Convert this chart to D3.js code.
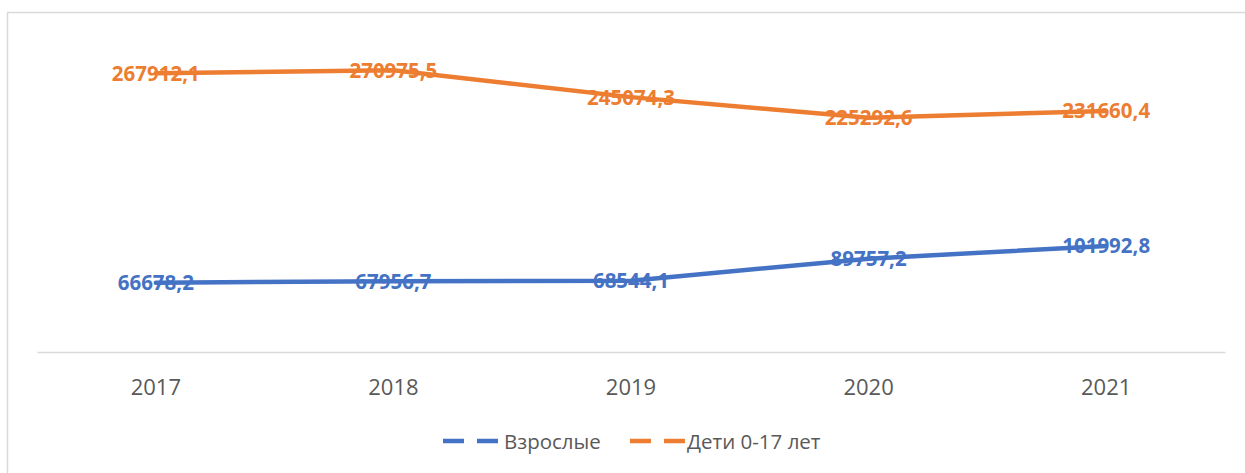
<!DOCTYPE html>
<html><head><meta charset="utf-8">
<script src="https://cdn.jsdelivr.net/npm/d3@7"></script>
<style>body{margin:0;background:#fff;} svg{display:block;}</style>
</head><body>
<svg id="chart" width="1245" height="473"></svg>
<script>
const categories = ["2017", "2018", "2019", "2020", "2021"];
const adults = [66678.2, 67956.7, 68544.1, 89757.2, 101992.8];
const children = [267912.1, 270975.5, 245074.3, 225292.6, 231660.4];
const seriesNames = ["Взрослые", "Дети 0-17 лет"];
const seriesColors = ["#4472C4", "#ED7D31"];

const svg = d3.select("#chart");
const W = 1245, H = 473;
svg.append("rect").attr("x", 7.5).attr("y", 12.5).attr("width", W + 10).attr("height", H + 10)
  .attr("fill", "#fff").attr("stroke", "#d9d9d9").attr("stroke-width", 1.5);

const x = d3.scaleBand().domain(categories).range([37, 1225]);
const y = d3.scaleLinear().domain([0, 300000]).range([352, 40]);

const axis = svg.append("g").attr("transform", "translate(0,352)")
  .call(d3.axisBottom(x).tickSize(0).tickPadding(0));
axis.select(".domain").attr("stroke", "#d9d9d9").attr("stroke-width", 1.5);
axis.selectAll("text").attr("font-family", "'Open Sans', sans-serif").attr("font-size", 22)
  .attr("fill", "#595959").attr("dy", null).attr("y", 43);

const fmt = v => v.toFixed(1).replace(".", ",");
const series = [adults, children];
const line = d3.line().x((d, i) => x(categories[i]) + x.bandwidth() / 2).y(d => y(d));

series.forEach((vals, s) => {
  svg.append("path").datum(vals).attr("d", line).attr("fill", "none")
    .attr("stroke", seriesColors[s]).attr("stroke-width", 4.5).attr("stroke-linejoin", "round").attr("stroke-linecap", "round");
});
series.forEach((vals, s) => {
  svg.append("g").selectAll("text").data(vals).join("text")
    .attr("x", (d, i) => x(categories[i]) + x.bandwidth() / 2)
    .attr("y", d => y(d))
    .attr("dy", "0.36em")
    .attr("text-anchor", "middle")
    .attr("font-family", "'Open Sans', sans-serif").attr("font-weight", 700).attr("font-size", 20.5)
    .attr("fill", seriesColors[s])
    .text(d => fmt(d));
});

// legend
const legend = [{x0: 443, tx: 504}, {x0: 630, tx: 687}];
legend.forEach((l, s) => {
  svg.append("line").attr("x1", l.x0).attr("x2", l.x0 + 55).attr("y1", 441).attr("y2", 441)
    .attr("stroke", seriesColors[s]).attr("stroke-width", 4.5).attr("stroke-dasharray", "21,13");
  svg.append("text").attr("x", l.tx).attr("y", 449).attr("font-family", "'Open Sans', sans-serif")
    .attr("font-size", 20.5).attr("fill", "#595959").text(seriesNames[s]);
});
</script>
</body></html>
